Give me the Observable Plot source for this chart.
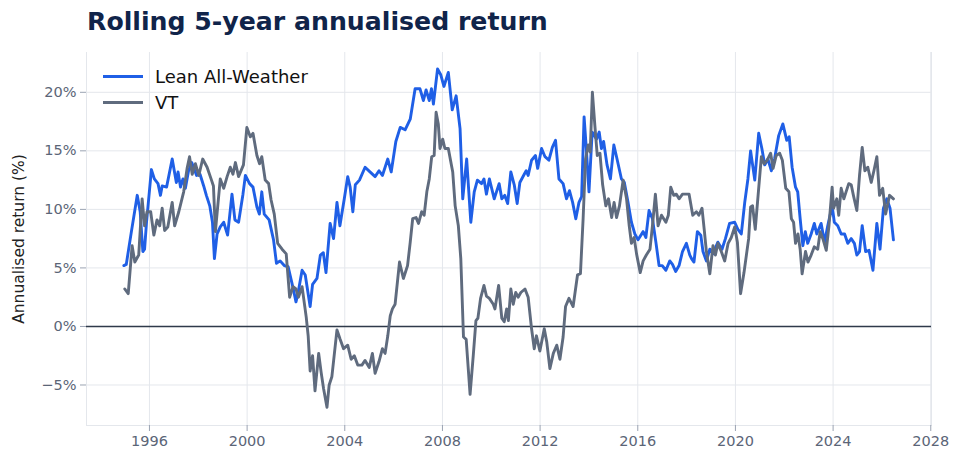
<!DOCTYPE html>
<html>
<head>
<meta charset="utf-8">
<script src="https://cdn.jsdelivr.net/npm/d3@7"></script>
<script src="https://cdn.jsdelivr.net/npm/@observablehq/plot@0.6"></script>
<style>
  html, body { margin: 0; padding: 0; background: #fff; }
  #wrap { position: relative; width: 964px; height: 466px; font-family: "DejaVu Sans", sans-serif; }
  #title { position: absolute; left: 87px; top: 7px; font-size: 25.2px; font-weight: bold; color: #10244a; white-space: nowrap; }
  #chart { position: absolute; left: 0; top: 44px; }
  #legend { position: absolute; left: 103px; top: 63px; font-size: 18px; color: #111; }
  .item { display: flex; align-items: center; height: 26px; }
  .sw { width: 40px; height: 3px; margin-right: 12px; }
  #chart svg g[aria-label="y-axis label"] text { fill: #222; font-size: 15.5px; }
</style>
</head>
<body>
<div id="wrap">
  <div id="title">Rolling 5-year annualised return</div>
  <div id="chart"></div>
  <div id="legend"></div>
</div>
<script>
const seriesNames = ["Lean All-Weather", "VT"];
const seriesColors = ["#1f5fe6", "#5f6b7e"];

const leanT = [1994.95,1995.05,1995.26,1995.5,1995.62,1995.73,1995.8,1995.88,1996.08,1996.2,1996.35,1996.45,1996.52,1996.7,1996.93,1997.1,1997.17,1997.27,1997.37,1997.47,1997.6,1997.73,1997.93,1998.07,1998.22,1998.33,1998.47,1998.58,1998.66,1998.77,1998.9,1999.04,1999.2,1999.38,1999.5,1999.65,1999.83,1999.93,2000.1,2000.24,2000.4,2000.5,2000.6,2000.7,2000.9,2001.08,2001.2,2001.35,2001.52,2001.68,2001.9,2002.0,2002.08,2002.25,2002.38,2002.58,2002.68,2002.86,2003.0,2003.12,2003.23,2003.4,2003.54,2003.68,2003.8,2003.98,2004.12,2004.22,2004.33,2004.43,2004.6,2004.83,2005.03,2005.24,2005.4,2005.54,2005.76,2005.9,2006.09,2006.27,2006.47,2006.68,2006.88,2007.08,2007.22,2007.33,2007.46,2007.55,2007.63,2007.8,2007.93,2008.06,2008.24,2008.4,2008.56,2008.72,2008.83,2008.99,2009.16,2009.3,2009.43,2009.6,2009.7,2009.8,2009.92,2010.12,2010.32,2010.43,2010.55,2010.67,2010.8,2010.94,2011.06,2011.17,2011.35,2011.43,2011.51,2011.65,2011.81,2011.9,2012.06,2012.2,2012.36,2012.5,2012.63,2012.77,2012.94,2013.08,2013.2,2013.33,2013.46,2013.59,2013.7,2013.8,2013.9,2014.0,2014.13,2014.31,2014.42,2014.51,2014.6,2014.74,2014.88,2015.02,2015.15,2015.33,2015.45,2015.6,2015.74,2015.88,2016.01,2016.22,2016.33,2016.46,2016.6,2016.74,2016.87,2017.0,2017.15,2017.31,2017.42,2017.55,2017.69,2017.83,2017.99,2018.13,2018.2,2018.3,2018.44,2018.58,2018.67,2018.81,2018.95,2019.08,2019.28,2019.45,2019.59,2019.76,2019.97,2020.1,2020.24,2020.38,2020.51,2020.62,2020.79,2020.95,2021.08,2021.2,2021.33,2021.47,2021.6,2021.77,2021.94,2022.1,2022.2,2022.32,2022.46,2022.55,2022.65,2022.76,2022.86,2022.96,2023.1,2023.23,2023.33,2023.51,2023.65,2023.78,2023.96,2024.05,2024.19,2024.33,2024.47,2024.6,2024.74,2024.87,2024.97,2025.08,2025.19,2025.33,2025.47,2025.63,2025.79,2025.92,2026.06,2026.2,2026.33,2026.47];
const leanV = [5.2,5.3,8.1,11.2,9.8,6.4,6.6,8.9,13.4,12.6,12.2,11.2,12.0,11.9,14.3,12.3,13.2,11.9,12.6,11.8,13.3,14.0,12.9,13.0,12.0,11.2,10.3,8.9,5.8,7.9,8.5,8.9,7.8,11.3,9.1,8.9,11.3,12.9,12.2,11.9,10.2,9.6,11.5,9.6,9.1,7.4,5.4,5.6,5.2,5.1,3.1,2.1,2.8,4.8,4.4,1.7,3.6,4.1,6.1,6.3,4.6,8.8,7.5,10.6,8.6,10.9,12.8,11.9,9.8,12.1,12.5,13.6,13.2,12.8,13.3,12.9,14.3,13.2,15.8,17.0,16.8,17.7,20.3,20.3,19.3,20.2,19.3,20.3,19.0,22.0,21.5,20.5,21.7,18.5,19.7,16.9,10.9,14.3,8.9,11.5,12.5,12.2,12.6,11.3,12.6,10.9,12.2,10.9,11.2,10.5,13.2,12.1,10.5,12.3,13.0,13.3,12.9,14.2,14.6,13.5,15.2,14.5,14.2,15.3,15.9,12.6,12.2,10.9,11.6,10.6,9.2,10.6,11.1,17.9,14.9,11.5,16.6,16.0,16.6,15.2,15.8,13.8,12.6,15.5,14.3,12.6,12.3,10.6,8.9,7.9,7.4,8.1,7.6,9.9,9.2,7.2,5.2,5.2,4.8,5.6,5.3,4.7,5.2,6.4,7.1,6.1,5.8,5.5,8.1,7.8,6.4,5.6,6.6,6.2,7.2,6.6,7.5,8.8,8.9,8.3,7.9,10.6,12.6,15.0,12.5,16.5,15.2,13.8,14.3,13.3,14.3,16.3,17.3,15.9,16.2,13.6,11.9,11.5,9.2,6.9,8.1,7.1,7.9,8.8,7.9,8.8,7.2,8.6,10.3,8.9,8.6,7.9,7.9,7.1,7.5,7.1,6.1,6.4,8.6,6.4,6.5,4.8,8.8,6.6,10.1,10.9,10.1,7.4];

const vtT = [1994.99,1995.13,1995.29,1995.4,1995.56,1995.7,1995.8,1995.9,1996.05,1996.18,1996.31,1996.42,1996.52,1996.62,1996.75,1996.93,1997.03,1997.2,1997.4,1997.54,1997.64,1997.75,1997.88,1998.02,1998.18,1998.36,1998.54,1998.62,1998.7,1998.9,1999.04,1999.18,1999.31,1999.42,1999.52,1999.65,1999.85,1999.99,2000.13,2000.24,2000.4,2000.51,2000.6,2000.74,2000.88,2000.98,2001.11,2001.25,2001.43,2001.6,2001.74,2001.88,2002.0,2002.1,2002.25,2002.42,2002.5,2002.58,2002.68,2002.78,2002.93,2003.03,2003.13,2003.27,2003.36,2003.47,2003.68,2003.81,2003.95,2004.12,2004.26,2004.39,2004.53,2004.7,2004.83,2005.0,2005.13,2005.24,2005.4,2005.54,2005.65,2005.76,2005.86,2005.95,2006.06,2006.24,2006.4,2006.57,2006.68,2006.78,2006.92,2007.02,2007.15,2007.25,2007.36,2007.46,2007.56,2007.66,2007.74,2007.83,2007.9,2008.01,2008.1,2008.24,2008.42,2008.52,2008.65,2008.75,2008.86,2008.97,2009.13,2009.26,2009.37,2009.45,2009.56,2009.7,2009.8,2009.92,2010.08,2010.15,2010.3,2010.43,2010.53,2010.63,2010.7,2010.8,2010.9,2011.0,2011.1,2011.21,2011.38,2011.51,2011.65,2011.76,2011.85,2011.99,2012.17,2012.27,2012.4,2012.54,2012.68,2012.81,2012.94,2013.04,2013.18,2013.35,2013.53,2013.65,2013.76,2013.86,2013.97,2014.05,2014.14,2014.24,2014.34,2014.45,2014.56,2014.69,2014.8,2014.93,2015.03,2015.13,2015.25,2015.4,2015.54,2015.65,2015.74,2015.85,2015.95,2016.1,2016.22,2016.35,2016.5,2016.6,2016.72,2016.83,2016.97,2017.15,2017.25,2017.35,2017.47,2017.58,2017.69,2017.83,2018.0,2018.1,2018.25,2018.4,2018.5,2018.63,2018.72,2018.81,2018.95,2019.08,2019.18,2019.28,2019.42,2019.56,2019.7,2019.83,2019.97,2020.08,2020.21,2020.35,2020.54,2020.62,2020.7,2020.81,2020.95,2021.06,2021.17,2021.3,2021.44,2021.54,2021.67,2021.81,2021.92,2022.06,2022.19,2022.29,2022.38,2022.46,2022.56,2022.65,2022.73,2022.87,2022.97,2023.1,2023.23,2023.37,2023.47,2023.58,2023.72,2023.83,2023.96,2024.02,2024.15,2024.23,2024.33,2024.44,2024.53,2024.64,2024.74,2024.83,2024.97,2025.08,2025.19,2025.3,2025.42,2025.56,2025.67,2025.79,2025.9,2026.03,2026.15,2026.31,2026.47];
const vtV = [3.2,2.8,6.9,5.5,6.1,10.9,8.6,9.8,9.8,7.8,9.1,8.6,10.1,8.2,8.5,10.6,8.6,9.8,11.5,13.5,14.5,13.0,13.9,12.9,14.3,13.6,12.5,12.0,8.1,12.6,11.8,12.8,13.6,13.0,14.0,12.8,13.8,17.0,16.2,16.5,14.6,13.9,14.5,12.5,12.2,10.8,9.6,7.1,6.6,6.2,2.5,3.4,3.2,2.5,3.4,0.8,-0.8,-3.8,-2.5,-5.5,-2.3,-3.9,-5.3,-6.9,-5.0,-4.3,-0.3,-1.1,-1.9,-1.6,-2.8,-2.5,-3.3,-3.3,-2.9,-3.5,-2.3,-4.0,-3.0,-1.9,-2.3,-0.8,0.9,1.5,1.9,5.5,4.1,5.2,7.2,9.2,9.3,8.8,9.8,9.5,11.5,12.6,14.5,14.6,18.3,17.3,15.2,16.0,15.2,15.2,13.2,10.3,8.6,5.8,-0.9,-1.1,-5.8,-2.5,0.5,0.7,2.4,3.5,2.6,2.4,1.9,1.5,3.5,0.7,0.4,1.5,0.5,3.2,1.9,2.9,2.5,2.9,3.2,2.5,-0.2,-1.9,-0.8,-2.1,-0.2,-1.3,-3.6,-2.3,-1.6,-2.8,-0.9,1.7,2.4,1.7,4.4,4.5,9.2,14.3,15.5,14.9,20.0,17.2,14.6,14.8,12.1,10.3,10.9,9.3,10.6,9.3,10.3,12.5,10.9,8.6,7.1,7.6,6.2,4.6,5.6,6.1,6.6,8.6,11.3,8.6,9.5,8.9,9.5,11.9,11.2,11.3,10.9,11.3,11.3,11.3,9.5,9.8,9.5,10.1,8.3,6.4,4.5,6.9,6.1,7.1,6.4,5.6,7.1,7.6,8.5,7.2,2.8,4.6,7.5,10.2,10.3,8.3,11.8,14.5,13.9,14.2,14.8,13.5,14.6,14.8,14.2,11.8,11.5,9.2,8.9,7.1,7.9,6.6,4.5,6.4,5.5,6.1,6.8,6.6,8.1,7.5,6.5,8.6,11.9,10.1,10.9,9.5,11.8,10.9,11.5,12.2,12.1,11.2,9.9,12.9,15.3,13.3,13.6,12.3,13.3,14.5,11.2,11.8,9.6,11.2,10.9];

const xTickYears = [1996, 2000, 2004, 2008, 2012, 2016, 2020, 2024, 2028];
const yTicks = [-5, 0, 5, 10, 15, 20];

function toDate(t) {
  const y = Math.floor(t);
  const start = Date.UTC(y, 0, 1), end = Date.UTC(y + 1, 0, 1);
  return new Date(start + (t - y) * (end - start));
}

const lean = leanT.map((t, i) => ({date: toDate(t), value: leanV[i]}));
const vt = vtT.map((t, i) => ({date: toDate(t), value: vtV[i]}));

const gridColor = "#e4e7ec";

const chart = Plot.plot({
  width: 964,
  height: 422,
  marginLeft: 86,
  marginRight: 33,
  marginTop: 8,
  marginBottom: 41,
  style: {fontFamily: "DejaVu Sans, sans-serif", fontSize: "14.5px", color: "#5b6577", background: "#fff"},
  x: {type: "utc", domain: [toDate(1993.42), toDate(2028.03)]},
  y: {domain: [-8.46, 23.4]},
  marks: [
    Plot.gridX(xTickYears.map(toDate), {stroke: gridColor, strokeOpacity: 1}),
    Plot.gridY(yTicks, {stroke: gridColor, strokeOpacity: 1}),
    Plot.frame({anchor: "left", stroke: gridColor}),
    Plot.frame({anchor: "right", stroke: gridColor}),
    Plot.frame({anchor: "bottom", stroke: gridColor}),
    Plot.axisX(xTickYears.map(toDate), {tickFormat: d3.utcFormat("%Y"), tickSize: 6, tickPadding: 4, stroke: "#9aa3b2", label: null}),
    Plot.axisY(yTicks, {tickFormat: d => (d < 0 ? "\u2212" + (-d) : d) + "%", tickSize: 6, tickPadding: 4, stroke: "#9aa3b2",
      label: "Annualised return (%)", labelAnchor: "center", labelArrow: "none", labelOffset: 74}),
    Plot.ruleY([0], {stroke: "#2f3a4a", strokeWidth: 1.4}),
    Plot.line(lean, {x: "date", y: "value", stroke: seriesColors[0], strokeWidth: 2.9}),
    Plot.line(vt, {x: "date", y: "value", stroke: seriesColors[1], strokeWidth: 2.9})
  ]
});
document.getElementById("chart").appendChild(chart);

const legend = document.getElementById("legend");
seriesNames.forEach((name, i) => {
  const row = document.createElement("div");
  row.className = "item";
  const sw = document.createElement("div");
  sw.className = "sw";
  sw.style.background = seriesColors[i];
  const label = document.createElement("span");
  label.textContent = name;
  row.appendChild(sw);
  row.appendChild(label);
  legend.appendChild(row);
});
</script>
</body>
</html>
